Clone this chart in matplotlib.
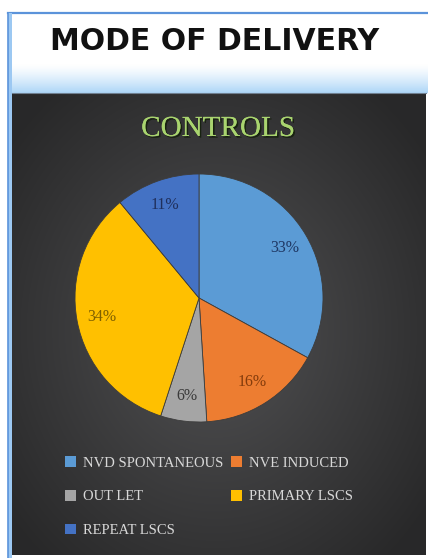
import numpy as np
import matplotlib
matplotlib.use("Agg")
import matplotlib.pyplot as plt
import matplotlib.patheffects as pe
from matplotlib.patches import Rectangle

# Delivery mode shares for the control group (percent)
categories = ["NVD SPONTANEOUS", "NVE INDUCED", "OUT LET", "PRIMARY LSCS", "REPEAT LSCS"]
shares = [33, 16, 6, 34, 11]
slice_colors = ["#5B9BD5", "#ED7D31", "#A5A5A5", "#FFC000", "#4472C4"]
label_colors = ["#1F3864", "#843C0C", "#3A3A3A", "#7F6000", "#1F2F5C"]
page_title = "MODE OF DELIVERY"
chart_title = "CONTROLS"

W, H = 428, 558
fig = plt.figure(figsize=(W / 100, H / 100), dpi=100)
fig.patch.set_facecolor("white")

# Background layer in pixel coordinates
bg = fig.add_axes([0, 0, 1, 1])
bg.set_xlim(0, W)
bg.set_ylim(H, 0)
bg.axis("off")

# Light-blue gradient band under the header
band_top, band_bot = 64, 93
g = np.linspace(0, 1, 64)[:, None, None] ** 1.3
c0 = np.array([1.0, 1.0, 1.0])
c1 = np.array([0.68, 0.84, 0.97])
band = (c0 * (1 - g) + c1 * g).repeat(2, axis=1)
bg.imshow(band, extent=(8, W, band_bot, band_top), aspect="auto", zorder=1)

# Dark panel with radial shading
px0, px1, py0, py1 = 12, W - 2, 93, H - 3
yy, xx = np.mgrid[py0:py1, px0:px1]
d = np.sqrt(((xx - 215) / 260.0) ** 2 + ((yy - 330) / 300.0) ** 2)
d = np.clip(d, 0, 1)
lum = 0.32 - 0.16 * d
panel = np.dstack([lum, lum, lum * 1.02])
bg.imshow(np.clip(panel, 0, 1), extent=(px0, px1, py1, py0), aspect="auto", zorder=2)

# Frame lines
bg.plot([8, W], [13, 13], color="#5B93DA", lw=1.6, zorder=3)
bg.add_patch(Rectangle((8, 13), 4, H - 13, color="#9CC8F2", zorder=3, lw=0))
bg.plot([8, 8], [13, H], color="#5B93DA", lw=1.2, zorder=4)
bg.plot([px0, px1], [py0, py0], color="#6F7F90", lw=0.8, zorder=4)

bg.text(215, 42, page_title, ha="center", va="center", fontsize=21.5,
        fontweight="bold", family="DejaVu Sans", color="#111111", zorder=5)

# Chart title with soft shadow
bg.text(218, 129, chart_title, ha="center", va="center", fontsize=21,
        family="Liberation Serif", color="#A9D46F", zorder=6,
        path_effects=[pe.withSimplePatchShadow(offset=(1.2, -1.2),
                                               shadow_rgbFace="#15200C", alpha=0.9),
                      pe.Normal()])

# Pie
cx, cy, r = 199, 298, 124
ax = fig.add_axes([(cx - r) / W, (H - cy - r) / H, 2 * r / W, 2 * r / H])
ax.set_facecolor("none")
wedges, texts, autotexts = ax.pie(
    shares, colors=slice_colors, startangle=90, counterclock=False,
    autopct="%d%%", pctdistance=0.8, radius=1.0,
    wedgeprops=dict(edgecolor="#3C3C3C", linewidth=0.6),
    textprops=dict(family="Liberation Serif", fontsize=11.5),
)
for t, c in zip(autotexts, label_colors):
    t.set_color(c)
ax.set_xlim(-1, 1)
ax.set_ylim(-1, 1)
ax.set_aspect("equal")

# Legend laid out row by row (two columns)
order = [0, 2, 4, 1, 3]
leg = fig.legend([wedges[i] for i in order], [categories[i] for i in order],
                 ncol=2, loc="upper left", bbox_to_anchor=(52 / W, 1 - 443 / H),
                 frameon=False, prop=dict(family="Liberation Serif", size=10.5),
                 labelcolor="#D8D8D8", handlelength=0.75, handleheight=0.75,
                 handletextpad=0.5, labelspacing=1.4, columnspacing=0.5)
for h in leg.legend_handles:
    h.set_edgecolor("none")

fig.savefig("out.png", dpi=100, facecolor=fig.get_facecolor())
